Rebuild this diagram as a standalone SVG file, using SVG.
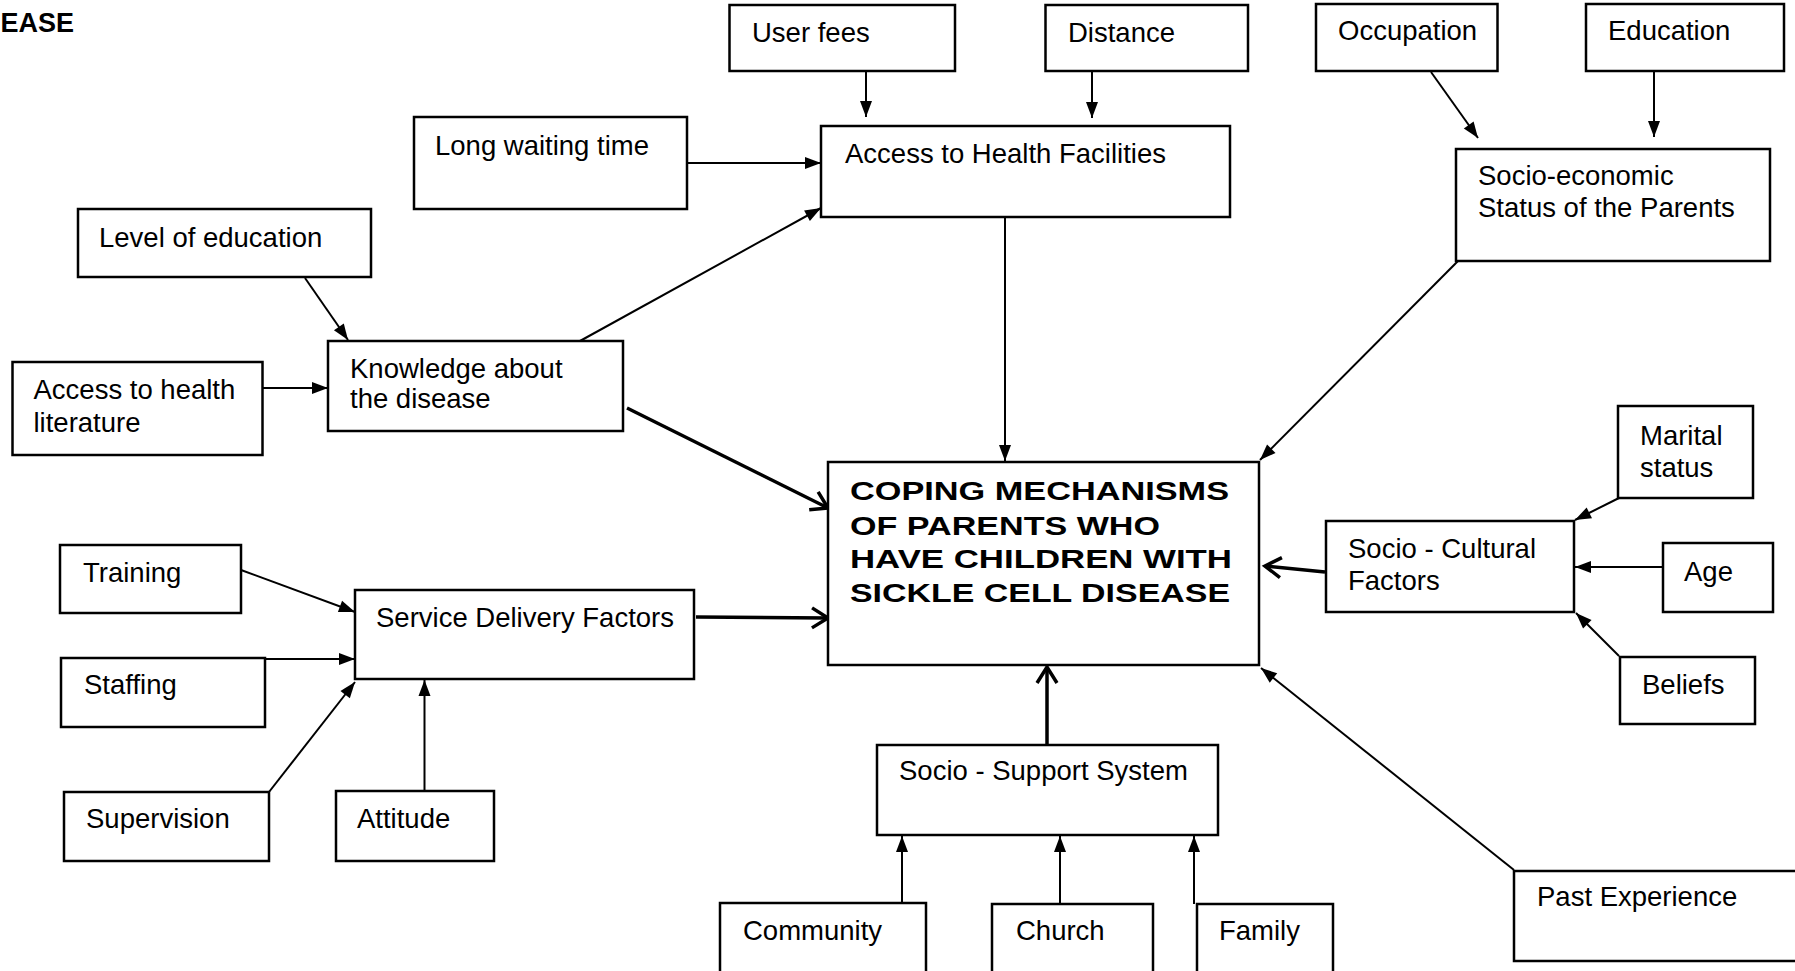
<svg xmlns="http://www.w3.org/2000/svg" width="1795" height="971" viewBox="0 0 1795 971">
<style>
.bx{fill:#fff;stroke:#000;stroke-width:2.5}
.t{font-family:"Liberation Sans",Arial,sans-serif;font-size:27.5px;fill:#000}
.tb{font-family:"Liberation Sans",Arial,sans-serif;font-size:25px;font-weight:bold;fill:#000}
.c{fill:none;stroke:#000;stroke-width:2}
.ck{fill:none;stroke:#000;stroke-width:3.5}
</style>
<defs>
<marker id="fa" markerUnits="userSpaceOnUse" markerWidth="17" markerHeight="13" refX="16" refY="6" orient="auto" overflow="visible">
<path d="M0,0 L16,6 L0,12 z" fill="#000"/>
</marker>
<marker id="oa" markerUnits="userSpaceOnUse" markerWidth="20" markerHeight="22" refX="16" refY="10" orient="auto" overflow="visible">
<path d="M0,0 L16,10 L0,20" fill="none" stroke="#000" stroke-width="3.5"/>
</marker>
</defs>
<rect width="1795" height="971" fill="#fff"/>
<text class="tb" x="74" y="32" text-anchor="end" style="font-size:27px">EASE</text>

<g id="connectors">
<line class="c" x1="866" y1="71" x2="866" y2="117" marker-end="url(#fa)"/>
<line class="c" x1="1092" y1="71" x2="1092" y2="118" marker-end="url(#fa)"/>
<line class="c" x1="687" y1="163" x2="821" y2="163" marker-end="url(#fa)"/>
<line class="c" x1="580" y1="341" x2="821" y2="208" marker-end="url(#fa)"/>
<line class="c" x1="1005" y1="217" x2="1005" y2="461" marker-end="url(#fa)"/>
<line class="c" x1="1431" y1="72" x2="1478" y2="138" marker-end="url(#fa)"/>
<line class="c" x1="1654" y1="72" x2="1654" y2="137" marker-end="url(#fa)"/>
<line class="c" x1="1458" y1="261" x2="1260" y2="460" marker-end="url(#fa)"/>
<line class="c" x1="305" y1="278" x2="348" y2="340" marker-end="url(#fa)"/>
<line class="c" x1="263" y1="388" x2="328" y2="388" marker-end="url(#fa)"/>
<line class="ck" x1="627" y1="408" x2="828" y2="508" marker-end="url(#oa)"/>
<line class="c" x1="241" y1="570" x2="355" y2="612" marker-end="url(#fa)"/>
<line class="c" x1="265" y1="659" x2="355" y2="659" marker-end="url(#fa)"/>
<line class="c" x1="269" y1="792" x2="355" y2="682" marker-end="url(#fa)"/>
<line class="c" x1="424.5" y1="791" x2="424.5" y2="680" marker-end="url(#fa)"/>
<line class="ck" x1="696" y1="617" x2="828" y2="618" marker-end="url(#oa)"/>
<line class="c" x1="902" y1="903" x2="902" y2="836" marker-end="url(#fa)"/>
<line class="c" x1="1060" y1="904" x2="1060" y2="836" marker-end="url(#fa)"/>
<line class="c" x1="1194" y1="904" x2="1194" y2="836" marker-end="url(#fa)"/>
<line class="ck" x1="1047" y1="745" x2="1047" y2="667" marker-end="url(#oa)"/>
<line class="c" x1="1619" y1="498" x2="1575" y2="520" marker-end="url(#fa)"/>
<line class="c" x1="1663" y1="567" x2="1575" y2="567" marker-end="url(#fa)"/>
<line class="c" x1="1619" y1="656" x2="1576" y2="613" marker-end="url(#fa)"/>
<line class="ck" x1="1325" y1="572" x2="1265" y2="566" marker-end="url(#oa)"/>
<line class="c" x1="1514" y1="870" x2="1261" y2="668" marker-end="url(#fa)"/>
</g>

<g id="long-waiting"><rect class="bx" x="414" y="117" width="273" height="92"/><text class="t" x="435" y="155">Long waiting time</text></g>
<g id="user-fees"><rect class="bx" x="729.5" y="5" width="225.5" height="66"/><text class="t" x="752" y="42">User fees</text></g>
<g id="distance"><rect class="bx" x="1045.5" y="5" width="202.5" height="66"/><text class="t" x="1068" y="42">Distance</text></g>
<g id="access-health"><rect class="bx" x="821" y="126" width="409" height="91"/><text class="t" x="845" y="163">Access to Health Facilities</text></g>
<g id="occupation"><rect class="bx" x="1316" y="4" width="181.5" height="67"/><text class="t" x="1338" y="40">Occupation</text></g>
<g id="education"><rect class="bx" x="1586" y="4" width="198" height="67"/><text class="t" x="1608" y="40">Education</text></g>
<g id="socio-economic"><rect class="bx" x="1456" y="149" width="314" height="112"/><text class="t" x="1478" y="185">Socio-economic</text><text class="t" x="1478" y="217">Status of the Parents</text></g>
<g id="level-education"><rect class="bx" x="78" y="209" width="293" height="68"/><text class="t" x="99" y="247">Level of education</text></g>
<g id="knowledge"><rect class="bx" x="328" y="341" width="295" height="90"/><text class="t" x="350" y="378">Knowledge about</text><text class="t" x="350" y="408">the disease</text></g>
<g id="access-literature"><rect class="bx" x="12.5" y="362" width="250" height="93"/><text class="t" x="33.5" y="399">Access to health</text><text class="t" x="33.5" y="432">literature</text></g>
<g id="center"><rect class="bx" x="828" y="462" width="431" height="203"/>
<text class="tb" x="850" y="500" textLength="379" lengthAdjust="spacingAndGlyphs">COPING MECHANISMS</text>
<text class="tb" x="850" y="535" textLength="310" lengthAdjust="spacingAndGlyphs">OF PARENTS WHO</text>
<text class="tb" x="850" y="568" textLength="382" lengthAdjust="spacingAndGlyphs">HAVE CHILDREN WITH</text>
<text class="tb" x="850" y="602" textLength="380" lengthAdjust="spacingAndGlyphs">SICKLE CELL DISEASE</text></g>
<g id="training"><rect class="bx" x="60" y="545" width="181" height="68"/><text class="t" x="83" y="582">Training</text></g>
<g id="staffing"><rect class="bx" x="61" y="658" width="204" height="69"/><text class="t" x="84" y="694">Staffing</text></g>
<g id="supervision"><rect class="bx" x="64" y="792" width="205" height="69"/><text class="t" x="86" y="828">Supervision</text></g>
<g id="attitude"><rect class="bx" x="336" y="791" width="158" height="70"/><text class="t" x="357" y="828">Attitude</text></g>
<g id="service-delivery"><rect class="bx" x="355" y="590" width="339" height="89"/><text class="t" x="376" y="627">Service Delivery Factors</text></g>
<g id="socio-support"><rect class="bx" x="877" y="745" width="341" height="90"/><text class="t" x="899" y="780">Socio - Support System</text></g>
<g id="community"><rect class="bx" x="720" y="903" width="206" height="75"/><text class="t" x="743" y="940">Community</text></g>
<g id="church"><rect class="bx" x="992" y="904" width="161" height="74"/><text class="t" x="1016" y="940">Church</text></g>
<g id="family"><rect class="bx" x="1197" y="904" width="136" height="74"/><text class="t" x="1219" y="940">Family</text></g>
<g id="marital"><rect class="bx" x="1618" y="406" width="135" height="92"/><text class="t" x="1640" y="445">Marital</text><text class="t" x="1640" y="477">status</text></g>
<g id="socio-cultural"><rect class="bx" x="1326" y="521" width="248" height="91"/><text class="t" x="1348" y="558">Socio - Cultural</text><text class="t" x="1348" y="590">Factors</text></g>
<g id="age"><rect class="bx" x="1663" y="543" width="110" height="69"/><text class="t" x="1684" y="581">Age</text></g>
<g id="beliefs"><rect class="bx" x="1620" y="657" width="135" height="67"/><text class="t" x="1642" y="694">Beliefs</text></g>
<g id="past-experience"><rect class="bx" x="1514" y="871" width="290" height="90"/><text class="t" x="1537" y="906">Past Experience</text></g>
</svg>
